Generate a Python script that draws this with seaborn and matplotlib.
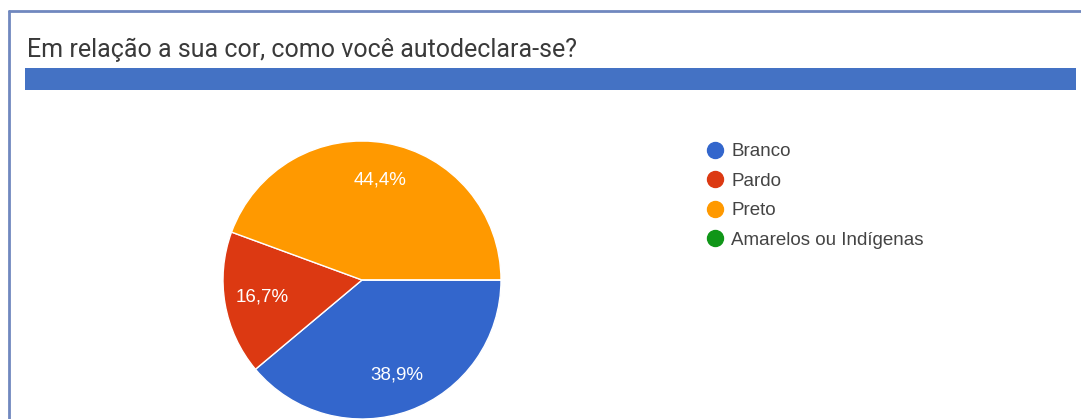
import matplotlib.pyplot as plt
import matplotlib.patches as mpatches
from matplotlib.lines import Line2D
import seaborn as sns

# dados
categorias = ['Branco', 'Pardo', 'Preto', 'Amarelos ou Indígenas']
percentuais = [38.9, 16.7, 44.4, 0.0]
cores = ['#3366cc', '#dc3912', '#ff9900', '#109618']
titulo = 'Em relação a sua cor, como você autodeclara-se?'

sns.set_theme(style='white')
plt.rcParams['font.family'] = ['Liberation Sans', 'DejaVu Sans']

W, H = 1081, 419
fig = plt.figure(figsize=(W / 100, H / 100), dpi=100)
fig.patch.set_facecolor('white')


def fx(px):
    return px / W


def fy(py):
    return 1 - py / H


# moldura (linhas esquerda e superior)
cor_moldura = '#7088bf'
fig.add_artist(Line2D([fx(9), fx(9)], [fy(11), fy(419)], color=cor_moldura, lw=2))
fig.add_artist(Line2D([fx(9), fx(1081)], [fy(11), fy(11)], color=cor_moldura, lw=2))

# titulo e barra azul
fig.text(fx(27), fy(57), titulo, fontsize=18, color='#3a3a3a',
         family=['Roboto', 'DejaVu Sans'], va='baseline', ha='left')
fig.add_artist(mpatches.Rectangle((fx(25), fy(90)), fx(1076) - fx(25), fy(68) - fy(90),
                                  color='#4472c4', lw=0))

# pizza
cx, cy, r = 362, 280, 139
ax = fig.add_axes([fx(cx - r), fy(cy + r), fx(2 * r), (2 * r) / H])
paleta = sns.color_palette(cores)


def fmt(p):
    return f'{p:.1f}%'.replace('.', ',') if p > 0 else ''


wedges, _, autotexts = ax.pie(percentuais, colors=paleta, startangle=0, counterclock=False,
                              autopct=fmt, pctdistance=0.73,
                              wedgeprops=dict(edgecolor='white', linewidth=1),
                              textprops=dict(color='white', fontsize=13.5))
ax.set_xlim(-1, 1)
ax.set_ylim(-1, 1)
ax.set_aspect('equal')
ax.axis('off')

# legenda
handles = [Line2D([], [], marker='o', linestyle='', markersize=11.5,
                  markerfacecolor=c, markeredgecolor=c) for c in paleta]
fig.legend(handles, categorias, loc='upper left', bbox_to_anchor=(fx(706), fy(143)),
           frameon=False, fontsize=13.5, labelcolor='#444444', handlelength=1.0,
           handletextpad=0.35, labelspacing=0.66, borderpad=0, borderaxespad=0)

fig.savefig('out.png', dpi=100, facecolor='white')
